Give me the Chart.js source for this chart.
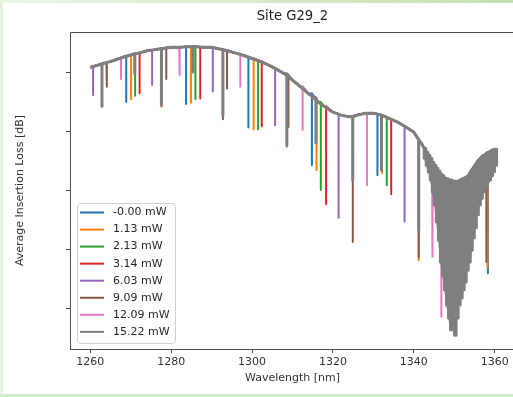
<!DOCTYPE html>
<html>
<head>
<meta charset="utf-8">
<script src="https://cdn.jsdelivr.net/npm/chart.js@4.4.1/dist/chart.umd.min.js"></script>
<style>
  html, body { margin: 0; padding: 0; background: #fff; overflow: hidden; width: 513px; height: 397px; }
  #chart { position: absolute; left: 0; top: 0; }
  .strip { position: absolute; z-index: 2; }
  #stripTop { left: 0; top: 0; width: 513px; height: 3px; background: linear-gradient(to right, #eaf5e6, #c4e0ae); }
  #stripLeft { left: 0; top: 0; width: 3px; height: 397px; background: #e4f2e0; }
  #stripBottom { left: 0; top: 394px; width: 513px; height: 3px; background: #d4ecd0; }
</style>
</head>
<body>
<div class="strip" id="stripTop"></div>
<div class="strip" id="stripLeft"></div>
<div class="strip" id="stripBottom"></div>
<canvas id="chart" width="540" height="397"></canvas>
<script>
/*=============== DATA ===============*/
const powerLabels = ['-0.00 mW', '1.13 mW', '2.13 mW', '3.14 mW', '6.03 mW', '9.09 mW', '12.09 mW', '15.22 mW']
const seriesColors = ['#1f77b4', '#ff7f0e', '#2ca02c', '#d62728', '#9467bd', '#8c564b', '#e377c2', '#7f7f7f']

const xTicks = [1260, 1280, 1300, 1320, 1340, 1360]
const yTicks = [-6, -7, -8, -9, -10]

// smooth part of the spectrum (shared by every power level)
const wavelengthNm = [1260, 1262, 1264, 1266, 1268, 1270, 1272, 1274, 1276, 1278,
    1280, 1282, 1284, 1286, 1288, 1290, 1292, 1294, 1296, 1298,
    1300, 1302, 1304, 1306, 1308, 1310, 1312, 1314, 1316, 1318,
    1320, 1322, 1324, 1326, 1328, 1330, 1332, 1334, 1336, 1338,
    1340, 1342]
const baseLoss = [-5.92, -5.88, -5.84, -5.80, -5.75, -5.71, -5.68, -5.64, -5.62, -5.60,
    -5.58, -5.58, -5.57, -5.57, -5.58, -5.58, -5.61, -5.64, -5.68, -5.72,
    -5.77, -5.82, -5.88, -5.95, -6.03, -6.14, -6.25, -6.37, -6.49, -6.59,
    -6.68, -6.73, -6.76, -6.73, -6.70, -6.70, -6.73, -6.79, -6.85, -6.93,
    -7.02, -7.22]

// noisy resonance region (upper and lower envelope of the ripple)
const noiseNm = [1342.5, 1343, 1343.5, 1344, 1344.5, 1345, 1345.5, 1346, 1346.5, 1347,
    1347.5, 1348, 1348.5, 1349, 1349.5, 1350, 1350.5, 1351, 1351.5, 1352,
    1352.5, 1353, 1353.5, 1354, 1354.5, 1355, 1355.5, 1356, 1356.5, 1357,
    1357.5, 1358, 1358.5, 1359, 1359.5, 1360]
const noiseTop = [-7.29, -7.36, -7.41, -7.46, -7.53, -7.58, -7.63, -7.68, -7.73, -7.76,
    -7.80, -7.81, -7.83, -7.83, -7.85, -7.85, -7.86, -7.85, -7.83, -7.81,
    -7.80, -7.78, -7.75, -7.69, -7.64, -7.59, -7.54, -7.49, -7.46, -7.42,
    -7.41, -7.37, -7.36, -7.34, -7.32, -7.31]
const noiseBottom = [-7.46, -7.58, -7.69, -7.83, -8.03, -8.25, -8.54, -8.85, -9.22, -9.44,
    -9.69, -9.95, -10.17, -10.37, -10.24, -10.46, -10.17, -9.95, -9.83, -9.69,
    -9.56, -9.36, -9.22, -9.02, -8.81, -8.64, -8.42, -8.25, -8.14, -8.03,
    -7.97, -7.86, -7.83, -7.76, -7.69, -7.58]

// dropouts per power level: [wavelength, curve value, bottom value]
const spikes000 = [[1268.9, -5.75, -6.51], [1283.7, -5.57, -6.54], [1299.1, -5.74, -6.94], [1314.8, -6.36, -7.58],
    [1331.0, -6.71, -7.75], [1353.5, -7.76, -9.10], [1358.3, -7.37, -9.41]]
const spikes113 = [[1270.1, -5.72, -6.46], [1277.6, -5.60, -6.59], [1284.9, -5.57, -6.52], [1300.4, -5.77, -6.97],
    [1315.9, -6.44, -7.66], [1332.1, -6.73, -7.71], [1341.2, -7.15, -9.19], [1349.7, -7.85, -10.36],
    [1352.5, -7.80, -9.40], [1358.2, -7.37, -9.32]]
const spikes213 = [[1271.1, -5.69, -6.40], [1286.0, -5.57, -6.46], [1301.5, -5.80, -6.97], [1317.0, -6.51, -8.00],
    [1333.3, -6.76, -7.92]]
const spikes314 = [[1272.2, -5.68, -6.36], [1287.2, -5.58, -6.45], [1302.4, -5.82, -6.92], [1318.3, -6.58, -8.24],
    [1334.4, -6.80, -8.07]]
const spikes603 = [[1260.7, -5.90, -6.39], [1275.3, -5.63, -6.22], [1290.3, -5.58, -6.33], [1305.7, -5.93, -6.90],
    [1321.4, -6.71, -8.47], [1337.7, -6.92, -8.54], [1354.0, -7.71, -9.07]]
const spikes909 = [[1264.1, -5.84, -6.25], [1278.8, -5.59, -6.12], [1292.8, -5.62, -6.80], [1293.8, -5.64, -6.28],
    [1309.0, -6.05, -6.93], [1324.9, -6.76, -8.88], [1341.2, -7.15, -9.14], [1350.6, -7.85, -10.03],
    [1357.9, -7.39, -9.22]]
const spikes1209 = [[1267.6, -5.76, -6.12], [1282.1, -5.58, -6.05], [1297.1, -5.69, -6.25], [1308.6, -6.03, -7.27],
    [1312.5, -6.24, -6.98], [1328.4, -6.70, -7.92], [1344.6, -7.54, -9.13], [1346.8, -7.75, -10.15]]
const spikes1522 = [[1262.9, -5.86, -6.58], [1271.0, -5.69, -6.03], [1277.6, -5.60, -6.56], [1285.4, -5.57, -6.00],
    [1292.8, -5.62, -6.73], [1308.6, -6.03, -7.24], [1315.8, -6.44, -7.20], [1324.9, -6.76, -7.83],
    [1332.0, -6.73, -7.66], [1341.2, -7.15, -8.68]]

const allSpikes = [spikes000, spikes113, spikes213, spikes314, spikes603, spikes909, spikes1209, spikes1522]

/*=============== BUILD SERIES ===============*/
function seriesPoints(spikes, withRipple) {
    const pts = wavelengthNm.map((x, i) => ({ x: x, y: baseLoss[i] }))
    noiseNm.forEach((x, i) => pts.push({ x: x, y: noiseTop[i] }))
    // each dropout is a vertical stroke down and back up
    spikes.forEach(([x, top, bottom]) => pts.push({ x: x, y: top }, { x: x, y: bottom }, { x: x, y: top }))
    pts.sort((a, b) => a.x - b.x)
    if (withRipple) {
        // fast ripple: separate strokes between the two envelopes
        noiseNm.forEach((x, i) => {
            [0.06, 0.19, 0.31, 0.44].forEach(dx => {
                pts.push({ x: x + dx, y: null }, { x: x + dx, y: noiseTop[i] }, { x: x + dx, y: noiseBottom[i] })
            })
        })
        pts.push({ x: 1361, y: null })
    }
    return pts
}

const datasets = powerLabels.map((label, i) => ({
    label: label,
    data: seriesPoints(allSpikes[i], i === powerLabels.length - 1),
    borderColor: seriesColors[i],
    backgroundColor: seriesColors[i],
    borderWidth: i === powerLabels.length - 1 ? 3 : 2,
    borderJoinStyle: 'round',
    pointRadius: 0,
    tension: 0,
    spanGaps: false,
    order: powerLabels.length - 1 - i   // last series on top, like matplotlib
}))

// body of the ripple of the last series, filled between its envelopes
datasets.push({
    label: 'ripple top',
    data: noiseNm.map((x, i) => ({ x: x, y: noiseTop[i] })),
    borderWidth: 0,
    pointRadius: 0,
    backgroundColor: seriesColors[7],
    fill: '+1',
    order: 0.5
}, {
    label: 'ripple bottom',
    data: noiseNm.map((x, i) => ({ x: x, y: noiseBottom[i] })),
    borderWidth: 0,
    pointRadius: 0,
    fill: false,
    order: 0.5
})

/*=============== PLUGINS ===============*/
const frameBox = {
    id: 'frameBox',
    afterDatasetsDraw(chart) {
        const { ctx, chartArea: a } = chart
        const l = Math.round(a.left) + 0.5, t = Math.round(a.top) + 0.5, b = Math.round(a.bottom) + 0.5
        ctx.save()
        ctx.strokeStyle = '#4d4d4d'
        ctx.lineWidth = 1
        ctx.beginPath()
        ctx.moveTo(a.right, t)
        ctx.lineTo(l, t)
        ctx.lineTo(l, b)
        ctx.lineTo(a.right, b)
        ctx.stroke()
        ctx.restore()
    }
}

const insideLegend = {
    id: 'insideLegend',
    afterDraw(chart) {
        const { ctx, chartArea: a } = chart
        const left = a.left + 7, top = a.bottom - 146, w = 98, h = 140
        ctx.save()
        ctx.beginPath()
        ctx.roundRect(left + 0.5, top + 0.5, w, h, 3)
        ctx.fillStyle = 'rgba(255,255,255,0.8)'
        ctx.fill()
        ctx.strokeStyle = '#d0d0d0'
        ctx.lineWidth = 1
        ctx.stroke()
        ctx.font = '11px "DejaVu Sans"'
        ctx.textBaseline = 'middle'
        chart.data.datasets.slice(0, powerLabels.length).forEach((ds, i) => {
            const y = top + 9.5 + i * 17.05
            ctx.beginPath()
            ctx.moveTo(left + 3, y)
            ctx.lineTo(left + 27, y)
            ctx.strokeStyle = ds.borderColor
            ctx.lineWidth = 2
            ctx.stroke()
            ctx.fillStyle = '#262626'
            ctx.fillText(ds.label, left + 36, y)
        })
        ctx.restore()
    }
}

/*=============== CHART ===============*/
const ctx = document.getElementById('chart').getContext('2d')

new Chart(ctx, {
    type: 'line',
    data: { datasets: datasets },
    options: {
        responsive: false,
        animation: false,
        events: [],
        layout: { padding: { left: 0, right: 25, top: 0, bottom: 0 } },
        scales: {
            x: {
                type: 'linear',
                min: 1255,
                max: 1365,
                afterBuildTicks: scale => { scale.ticks = xTicks.map(v => ({ value: v })) },
                afterFit: scale => {
                    scale.height = 48
                    scale.paddingLeft = 0
                    scale.paddingRight = 0
                },
                ticks: {
                    autoSkip: false,
                    maxRotation: 0,
                    padding: 3,
                    color: '#333',
                    font: { family: 'DejaVu Sans', size: 11 },
                    callback: v => String(v)
                },
                grid: { display: true, drawOnChartArea: false, drawTicks: true, tickLength: 4, color: '#4d4d4d' },
                border: { display: false },
                title: {
                    display: true,
                    text: 'Wavelength [nm]',
                    color: '#333',
                    font: { family: 'DejaVu Sans', size: 11 },
                    padding: { top: 0, bottom: 12.4 }
                }
            },
            y: {
                type: 'linear',
                min: -10.695,
                max: -5.322,
                afterBuildTicks: scale => { scale.ticks = yTicks.map(v => ({ value: v })) },
                afterFit: scale => { scale.width = 70 },
                ticks: { display: false },
                grid: { display: true, drawOnChartArea: false, drawTicks: true, tickLength: 4, color: '#4d4d4d' },
                border: { display: false },
                title: {
                    display: true,
                    text: 'Average Insertion Loss [dB]',
                    color: '#333',
                    font: { family: 'DejaVu Sans', size: 11 },
                    padding: { top: 13.4, bottom: 0 }
                }
            }
        },
        plugins: {
            legend: { display: false },
            tooltip: { enabled: false },
            filler: { propagate: false },
            title: {
                display: true,
                fullSize: false,   // centre over the plot area, as matplotlib does
                text: 'Site G29_2',
                color: '#222',
                font: { family: 'DejaVu Sans', size: 13.2, weight: 'normal' },
                padding: { top: 9, bottom: 7.2 }
            }
        }
    },
    plugins: [frameBox, insideLegend]
})
</script>
</body>
</html>
